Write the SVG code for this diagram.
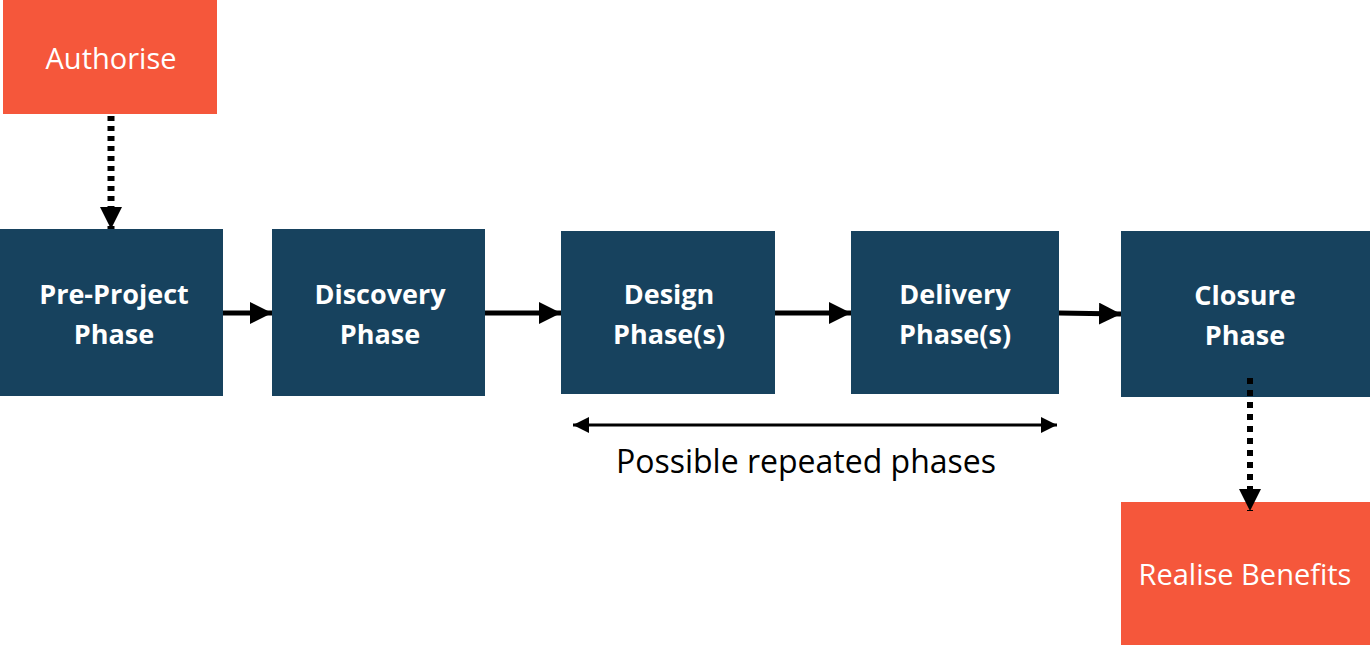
<svg xmlns="http://www.w3.org/2000/svg" width="1372" height="645" viewBox="0 0 1372 645">
<style>
.phase{fill:#17425E}
.orange{fill:#F5573B}
.pt{font-family:"Open Sans","Liberation Sans",sans-serif;font-weight:bold;font-size:27px;fill:#fff;text-anchor:middle}
.ot{font-family:"Open Sans","Liberation Sans",sans-serif;font-size:29px;fill:#fff;text-anchor:middle}
.lbl{font-family:"Open Sans","Liberation Sans",sans-serif;font-size:32px;fill:#000;text-anchor:middle}
.conn{stroke:#000;fill:none}
</style>
<defs>
<marker id="ahs" viewBox="0 0 10 10" refX="10" refY="5" markerWidth="16" markerHeight="16" markerUnits="userSpaceOnUse" orient="auto-start-reverse">
<path d="M0,0 L10,5 L0,10 Z" fill="#000"/>
</marker>
<marker id="ahb" viewBox="0 0 10 10" refX="10" refY="5" markerWidth="22" markerHeight="22" markerUnits="userSpaceOnUse" orient="auto">
<path d="M0,0 L10,5 L0,10 Z" fill="#000"/>
</marker>
</defs>
<g id="authorise"><rect class="orange" x="3" y="0" width="214" height="114"/><text class="ot" x="111" y="69">Authorise</text></g>
<g id="pre-project"><rect class="phase" x="0" y="229" width="223" height="167"/><text class="pt" x="114" y="304">Pre-Project</text><text class="pt" x="114" y="344">Phase</text></g>
<g id="discovery"><rect class="phase" x="272" y="229" width="213" height="167"/><text class="pt" x="380" y="304">Discovery</text><text class="pt" x="380" y="344">Phase</text></g>
<g id="design"><rect class="phase" x="561" y="231" width="214" height="163"/><text class="pt" x="669" y="304">Design</text><text class="pt" x="669" y="344">Phase(s)</text></g>
<g id="delivery"><rect class="phase" x="851" y="231" width="208" height="163"/><text class="pt" x="955" y="304">Delivery</text><text class="pt" x="955" y="344">Phase(s)</text></g>
<g id="closure"><rect class="phase" x="1121" y="231" width="249" height="166"/><text class="pt" x="1245" y="305">Closure</text><text class="pt" x="1245" y="345">Phase</text></g>
<g id="realise"><rect class="orange" x="1121" y="502" width="249" height="143"/><text class="ot" x="1245" y="585">Realise Benefits</text></g>
<g id="label"><text class="lbl" x="806" y="473">Possible repeated phases</text></g>
<g id="connectors">
<line class="conn" x1="223" y1="313" x2="272" y2="313" stroke-width="5" marker-end="url(#ahb)"/>
<line class="conn" x1="485" y1="313" x2="561" y2="313" stroke-width="5" marker-end="url(#ahb)"/>
<line class="conn" x1="775" y1="313" x2="851" y2="313" stroke-width="5" marker-end="url(#ahb)"/>
<line class="conn" x1="1059" y1="313" x2="1121" y2="314" stroke-width="5" marker-end="url(#ahb)"/>
<line class="conn" x1="573" y1="425" x2="1057" y2="425" stroke-width="3" marker-start="url(#ahs)" marker-end="url(#ahs)"/>
<line class="conn" x1="111" y1="116" x2="111" y2="229" stroke-width="7" stroke-dasharray="5,5" marker-end="url(#ahb)"/>
<line class="conn" x1="1250" y1="378" x2="1250" y2="511" stroke-width="6" stroke-dasharray="6,6" marker-end="url(#ahb)"/>
</g>
</svg>
